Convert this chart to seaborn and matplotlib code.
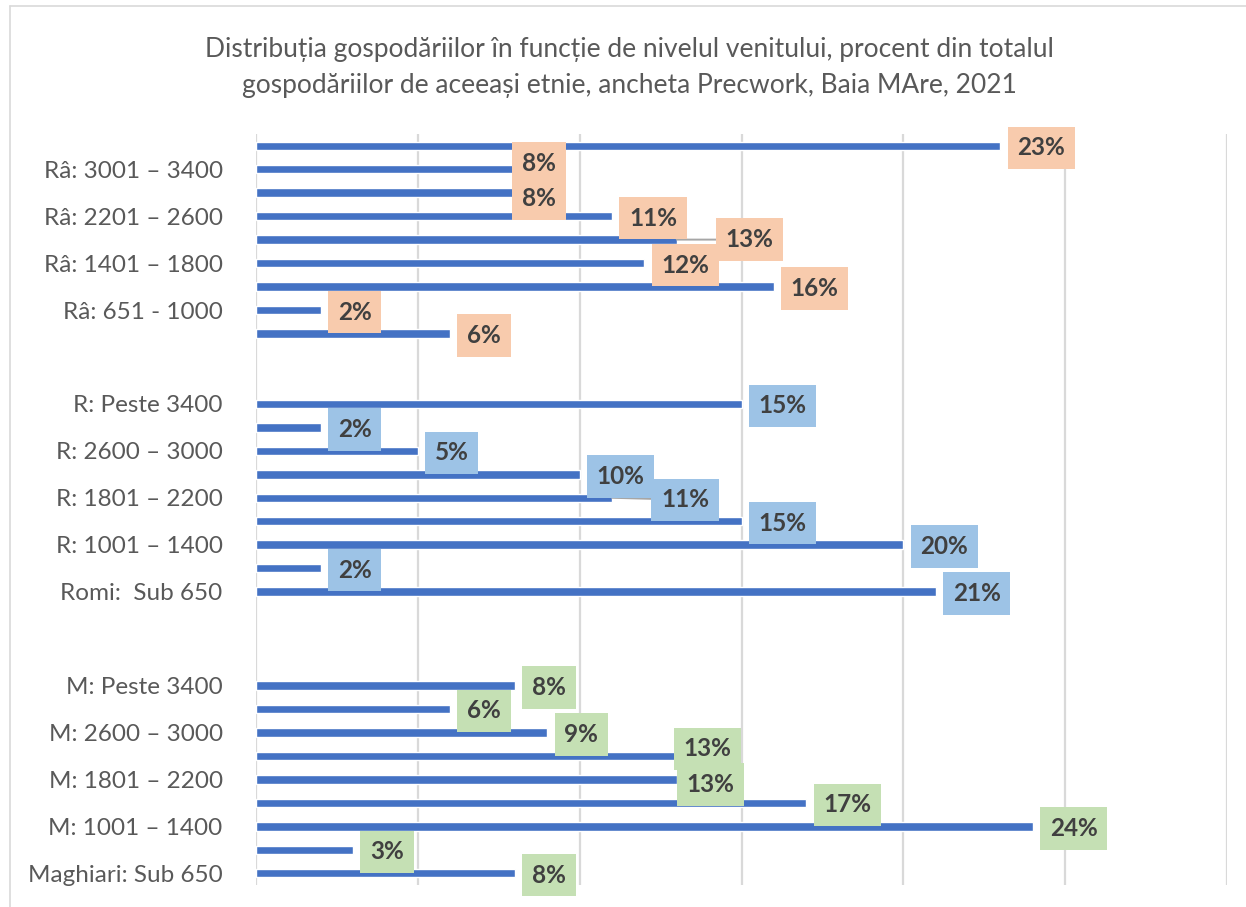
import seaborn as sns
import numpy as np
import pandas as pd
import matplotlib.pyplot as plt
from matplotlib.lines import Line2D

# income brackets, bottom -> top inside each group
intervale = ["Sub 650", "651 - 1000", "1001 – 1400", "1401 – 1800", "1801 – 2200",
             "2201 – 2600", "2600 – 3000", "3001 – 3400", "Peste 3400"]

cat_maghiari = ["Maghiari: Sub 650"] + ["M: " + s for s in intervale[1:]]
cat_romi = ["Romi:  Sub 650"] + ["R: " + s for s in intervale[1:]]
cat_romani = ["Râ: Sub 650"] + ["Râ: " + s for s in intervale[1:]]

val_maghiari = [8, 3, 24, 17, 13, 13, 9, 6, 8]
val_romi = [21, 2, 20, 15, 11, 10, 5, 2, 15]
val_romani = [6, 2, 16, 12, 13, 11, 8, 8, 23]

# label nudges in pixels (dx from default, dy down), and which get leader lines
nudges = {
    "Râ: 3001 – 3400": (-10, -8), "Râ: 2600 – 3000": (-10, 4),
    "Râ: 1801 – 2200": (32, -2), "R: 1801 – 2200": (32, 0),
    "M: 2201 – 2600": (-10, -9), "M: 1801 – 2200": (-7, 3),
}
leaders = ["Râ: 1801 – 2200", "R: 1801 – 2200"]

box_colors = {"M": "#C5E0B4", "R": "#9DC3E6", "Râ": "#F8CBAD"}

rows = []
for grp, cats, vals in [("M", cat_maghiari, val_maghiari), ("R", cat_romi, val_romi),
                        ("Râ", cat_romani, val_romani)]:
    for c, v in zip(cats, vals):
        rows.append({"categorie": c, "valoare": v, "grup": grp})
df = pd.DataFrame(rows)

# bottom -> top with empty spacer slots between groups
order_bottom_up = cat_maghiari + [" ", "  ", "   "] + cat_romi + ["    ", "     "] + cat_romani
order = order_bottom_up[::-1]

sns.set_style("white")
plt.rcParams['font.family'] = ['Lato', 'DejaVu Sans']

fig = plt.figure(figsize=(12.46, 9.07), dpi=100)
ax = fig.add_axes([256 / 1246, 1 - 885 / 907, (1227 - 256) / 1246, (885 - 134) / 907])

sns.barplot(data=df, x="valoare", y="categorie", order=order, color="#4472C4",
            width=0.36, orient="h", ax=ax, saturation=1)

ax.set_xlim(0, 30)
ax.set_xticks(np.arange(0, 31, 5))
ax.set_xticklabels([])
ax.tick_params(axis="x", length=0)
ax.grid(axis="x", color="#D9D9D9", linewidth=1.6)
ax.set_axisbelow(True)
for s in ax.spines.values():
    s.set_visible(False)

n = len(order)
ticks = [i for i in range(n) if (n - 1 - i) % 2 == 0]
ax.set_yticks(ticks)
ax.set_yticklabels([order[i] for i in ticks], fontsize=17.5, color="#595959")
ax.tick_params(axis="y", length=0, pad=24)
ax.set_xlabel("")
ax.set_ylabel("")

px = 0.72  # points per pixel at 100 dpi
for _, r in df.iterrows():
    y = order.index(r["categorie"])
    dx, dy = nudges.get(r["categorie"], (0, 0))
    kw = {}
    if r["categorie"] in leaders:
        kw["arrowprops"] = dict(arrowstyle="-", color="#A6A6A6", lw=1.4,
                                shrinkA=0, shrinkB=0)
    ax.annotate(f"{r['valoare']}%", xy=(r["valoare"], y),
                xytext=((17 + dx) * px, -dy * px), textcoords="offset points",
                ha="left", va="center_baseline", fontsize=17.5, fontweight="bold",
                color="#404040",
                bbox=dict(boxstyle="square,pad=0.4", fc=box_colors[r["grup"]], ec="none"),
                **kw)

fig.text(0.505, 1 - 50 / 907, "Distribuția gospodăriilor în funcție de nivelul venitului, procent din totalul",
         ha="center", va="center", fontsize=19, color="#595959")
fig.text(0.505, 1 - 86 / 907, "gospodăriilor de aceeași etnie, ancheta Precwork, Baia MAre, 2021",
         ha="center", va="center", fontsize=19, color="#595959")

# outer chart border (top and left visible)
fig.add_artist(Line2D([10 / 1246, 1], [1 - 6 / 907, 1 - 6 / 907], transform=fig.transFigure,
                      color="#D9D9D9", lw=1.2))
fig.add_artist(Line2D([10 / 1246, 10 / 1246], [0, 1 - 6 / 907], transform=fig.transFigure,
                      color="#D9D9D9", lw=1.2))

fig.savefig("out.png", dpi=100)
